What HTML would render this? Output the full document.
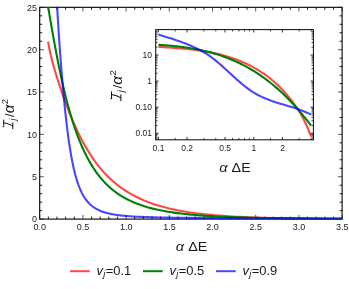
<!DOCTYPE html><html><head><meta charset="utf-8"><style>html,body{margin:0;padding:0;background:#fff}body{width:349px;height:289px;overflow:hidden}</style></head><body><svg width="349" height="289" viewBox="0 0 349 289" style="display:block;will-change:transform;font-family:'Liberation Sans',sans-serif">
<rect width="349" height="289" fill="#fff"/>
<rect x="39.7" y="7.3" width="302.4" height="211.8" fill="none" stroke="#000" stroke-width="1.1"/>
<line x1="39.70" y1="219.10" x2="39.70" y2="214.90" stroke-width="0.7" stroke="#111"/>
<line x1="39.70" y1="7.30" x2="39.70" y2="11.50" stroke-width="0.7" stroke="#111"/>
<line x1="48.34" y1="219.10" x2="48.34" y2="216.60" stroke-width="0.9" stroke="#000"/>
<line x1="48.34" y1="7.30" x2="48.34" y2="9.80" stroke-width="0.9" stroke="#000"/>
<line x1="56.98" y1="219.10" x2="56.98" y2="216.60" stroke-width="0.9" stroke="#000"/>
<line x1="56.98" y1="7.30" x2="56.98" y2="9.80" stroke-width="0.9" stroke="#000"/>
<line x1="65.62" y1="219.10" x2="65.62" y2="216.60" stroke-width="0.9" stroke="#000"/>
<line x1="65.62" y1="7.30" x2="65.62" y2="9.80" stroke-width="0.9" stroke="#000"/>
<line x1="74.26" y1="219.10" x2="74.26" y2="216.60" stroke-width="0.9" stroke="#000"/>
<line x1="74.26" y1="7.30" x2="74.26" y2="9.80" stroke-width="0.9" stroke="#000"/>
<line x1="82.90" y1="219.10" x2="82.90" y2="214.90" stroke-width="0.7" stroke="#111"/>
<line x1="82.90" y1="7.30" x2="82.90" y2="11.50" stroke-width="0.7" stroke="#111"/>
<line x1="91.54" y1="219.10" x2="91.54" y2="216.60" stroke-width="0.9" stroke="#000"/>
<line x1="91.54" y1="7.30" x2="91.54" y2="9.80" stroke-width="0.9" stroke="#000"/>
<line x1="100.18" y1="219.10" x2="100.18" y2="216.60" stroke-width="0.9" stroke="#000"/>
<line x1="100.18" y1="7.30" x2="100.18" y2="9.80" stroke-width="0.9" stroke="#000"/>
<line x1="108.82" y1="219.10" x2="108.82" y2="216.60" stroke-width="0.9" stroke="#000"/>
<line x1="108.82" y1="7.30" x2="108.82" y2="9.80" stroke-width="0.9" stroke="#000"/>
<line x1="117.46" y1="219.10" x2="117.46" y2="216.60" stroke-width="0.9" stroke="#000"/>
<line x1="117.46" y1="7.30" x2="117.46" y2="9.80" stroke-width="0.9" stroke="#000"/>
<line x1="126.10" y1="219.10" x2="126.10" y2="214.90" stroke-width="0.7" stroke="#111"/>
<line x1="126.10" y1="7.30" x2="126.10" y2="11.50" stroke-width="0.7" stroke="#111"/>
<line x1="134.74" y1="219.10" x2="134.74" y2="216.60" stroke-width="0.9" stroke="#000"/>
<line x1="134.74" y1="7.30" x2="134.74" y2="9.80" stroke-width="0.9" stroke="#000"/>
<line x1="143.38" y1="219.10" x2="143.38" y2="216.60" stroke-width="0.9" stroke="#000"/>
<line x1="143.38" y1="7.30" x2="143.38" y2="9.80" stroke-width="0.9" stroke="#000"/>
<line x1="152.02" y1="219.10" x2="152.02" y2="216.60" stroke-width="0.9" stroke="#000"/>
<line x1="152.02" y1="7.30" x2="152.02" y2="9.80" stroke-width="0.9" stroke="#000"/>
<line x1="160.66" y1="219.10" x2="160.66" y2="216.60" stroke-width="0.9" stroke="#000"/>
<line x1="160.66" y1="7.30" x2="160.66" y2="9.80" stroke-width="0.9" stroke="#000"/>
<line x1="169.30" y1="219.10" x2="169.30" y2="214.90" stroke-width="0.7" stroke="#111"/>
<line x1="169.30" y1="7.30" x2="169.30" y2="11.50" stroke-width="0.7" stroke="#111"/>
<line x1="177.94" y1="219.10" x2="177.94" y2="216.60" stroke-width="0.9" stroke="#000"/>
<line x1="177.94" y1="7.30" x2="177.94" y2="9.80" stroke-width="0.9" stroke="#000"/>
<line x1="186.58" y1="219.10" x2="186.58" y2="216.60" stroke-width="0.9" stroke="#000"/>
<line x1="186.58" y1="7.30" x2="186.58" y2="9.80" stroke-width="0.9" stroke="#000"/>
<line x1="195.22" y1="219.10" x2="195.22" y2="216.60" stroke-width="0.9" stroke="#000"/>
<line x1="195.22" y1="7.30" x2="195.22" y2="9.80" stroke-width="0.9" stroke="#000"/>
<line x1="203.86" y1="219.10" x2="203.86" y2="216.60" stroke-width="0.9" stroke="#000"/>
<line x1="203.86" y1="7.30" x2="203.86" y2="9.80" stroke-width="0.9" stroke="#000"/>
<line x1="212.50" y1="219.10" x2="212.50" y2="214.90" stroke-width="0.7" stroke="#111"/>
<line x1="212.50" y1="7.30" x2="212.50" y2="11.50" stroke-width="0.7" stroke="#111"/>
<line x1="221.14" y1="219.10" x2="221.14" y2="216.60" stroke-width="0.9" stroke="#000"/>
<line x1="221.14" y1="7.30" x2="221.14" y2="9.80" stroke-width="0.9" stroke="#000"/>
<line x1="229.78" y1="219.10" x2="229.78" y2="216.60" stroke-width="0.9" stroke="#000"/>
<line x1="229.78" y1="7.30" x2="229.78" y2="9.80" stroke-width="0.9" stroke="#000"/>
<line x1="238.42" y1="219.10" x2="238.42" y2="216.60" stroke-width="0.9" stroke="#000"/>
<line x1="238.42" y1="7.30" x2="238.42" y2="9.80" stroke-width="0.9" stroke="#000"/>
<line x1="247.06" y1="219.10" x2="247.06" y2="216.60" stroke-width="0.9" stroke="#000"/>
<line x1="247.06" y1="7.30" x2="247.06" y2="9.80" stroke-width="0.9" stroke="#000"/>
<line x1="255.70" y1="219.10" x2="255.70" y2="214.90" stroke-width="0.7" stroke="#111"/>
<line x1="255.70" y1="7.30" x2="255.70" y2="11.50" stroke-width="0.7" stroke="#111"/>
<line x1="264.34" y1="219.10" x2="264.34" y2="216.60" stroke-width="0.9" stroke="#000"/>
<line x1="264.34" y1="7.30" x2="264.34" y2="9.80" stroke-width="0.9" stroke="#000"/>
<line x1="272.98" y1="219.10" x2="272.98" y2="216.60" stroke-width="0.9" stroke="#000"/>
<line x1="272.98" y1="7.30" x2="272.98" y2="9.80" stroke-width="0.9" stroke="#000"/>
<line x1="281.62" y1="219.10" x2="281.62" y2="216.60" stroke-width="0.9" stroke="#000"/>
<line x1="281.62" y1="7.30" x2="281.62" y2="9.80" stroke-width="0.9" stroke="#000"/>
<line x1="290.26" y1="219.10" x2="290.26" y2="216.60" stroke-width="0.9" stroke="#000"/>
<line x1="290.26" y1="7.30" x2="290.26" y2="9.80" stroke-width="0.9" stroke="#000"/>
<line x1="298.90" y1="219.10" x2="298.90" y2="214.90" stroke-width="0.7" stroke="#111"/>
<line x1="298.90" y1="7.30" x2="298.90" y2="11.50" stroke-width="0.7" stroke="#111"/>
<line x1="307.54" y1="219.10" x2="307.54" y2="216.60" stroke-width="0.9" stroke="#000"/>
<line x1="307.54" y1="7.30" x2="307.54" y2="9.80" stroke-width="0.9" stroke="#000"/>
<line x1="316.18" y1="219.10" x2="316.18" y2="216.60" stroke-width="0.9" stroke="#000"/>
<line x1="316.18" y1="7.30" x2="316.18" y2="9.80" stroke-width="0.9" stroke="#000"/>
<line x1="324.82" y1="219.10" x2="324.82" y2="216.60" stroke-width="0.9" stroke="#000"/>
<line x1="324.82" y1="7.30" x2="324.82" y2="9.80" stroke-width="0.9" stroke="#000"/>
<line x1="333.46" y1="219.10" x2="333.46" y2="216.60" stroke-width="0.9" stroke="#000"/>
<line x1="333.46" y1="7.30" x2="333.46" y2="9.80" stroke-width="0.9" stroke="#000"/>
<line x1="342.10" y1="219.10" x2="342.10" y2="214.90" stroke-width="0.7" stroke="#111"/>
<line x1="342.10" y1="7.30" x2="342.10" y2="11.50" stroke-width="0.7" stroke="#111"/>
<line x1="39.70" y1="219.10" x2="43.90" y2="219.10" stroke-width="0.7" stroke="#111"/>
<line x1="342.10" y1="219.10" x2="337.90" y2="219.10" stroke-width="0.7" stroke="#111"/>
<line x1="39.70" y1="210.63" x2="42.20" y2="210.63" stroke-width="0.9" stroke="#000"/>
<line x1="342.10" y1="210.63" x2="339.60" y2="210.63" stroke-width="0.9" stroke="#000"/>
<line x1="39.70" y1="202.16" x2="42.20" y2="202.16" stroke-width="0.9" stroke="#000"/>
<line x1="342.10" y1="202.16" x2="339.60" y2="202.16" stroke-width="0.9" stroke="#000"/>
<line x1="39.70" y1="193.69" x2="42.20" y2="193.69" stroke-width="0.9" stroke="#000"/>
<line x1="342.10" y1="193.69" x2="339.60" y2="193.69" stroke-width="0.9" stroke="#000"/>
<line x1="39.70" y1="185.22" x2="42.20" y2="185.22" stroke-width="0.9" stroke="#000"/>
<line x1="342.10" y1="185.22" x2="339.60" y2="185.22" stroke-width="0.9" stroke="#000"/>
<line x1="39.70" y1="176.75" x2="43.90" y2="176.75" stroke-width="0.7" stroke="#111"/>
<line x1="342.10" y1="176.75" x2="337.90" y2="176.75" stroke-width="0.7" stroke="#111"/>
<line x1="39.70" y1="168.28" x2="42.20" y2="168.28" stroke-width="0.9" stroke="#000"/>
<line x1="342.10" y1="168.28" x2="339.60" y2="168.28" stroke-width="0.9" stroke="#000"/>
<line x1="39.70" y1="159.81" x2="42.20" y2="159.81" stroke-width="0.9" stroke="#000"/>
<line x1="342.10" y1="159.81" x2="339.60" y2="159.81" stroke-width="0.9" stroke="#000"/>
<line x1="39.70" y1="151.34" x2="42.20" y2="151.34" stroke-width="0.9" stroke="#000"/>
<line x1="342.10" y1="151.34" x2="339.60" y2="151.34" stroke-width="0.9" stroke="#000"/>
<line x1="39.70" y1="142.87" x2="42.20" y2="142.87" stroke-width="0.9" stroke="#000"/>
<line x1="342.10" y1="142.87" x2="339.60" y2="142.87" stroke-width="0.9" stroke="#000"/>
<line x1="39.70" y1="134.40" x2="43.90" y2="134.40" stroke-width="0.7" stroke="#111"/>
<line x1="342.10" y1="134.40" x2="337.90" y2="134.40" stroke-width="0.7" stroke="#111"/>
<line x1="39.70" y1="125.93" x2="42.20" y2="125.93" stroke-width="0.9" stroke="#000"/>
<line x1="342.10" y1="125.93" x2="339.60" y2="125.93" stroke-width="0.9" stroke="#000"/>
<line x1="39.70" y1="117.46" x2="42.20" y2="117.46" stroke-width="0.9" stroke="#000"/>
<line x1="342.10" y1="117.46" x2="339.60" y2="117.46" stroke-width="0.9" stroke="#000"/>
<line x1="39.70" y1="108.99" x2="42.20" y2="108.99" stroke-width="0.9" stroke="#000"/>
<line x1="342.10" y1="108.99" x2="339.60" y2="108.99" stroke-width="0.9" stroke="#000"/>
<line x1="39.70" y1="100.52" x2="42.20" y2="100.52" stroke-width="0.9" stroke="#000"/>
<line x1="342.10" y1="100.52" x2="339.60" y2="100.52" stroke-width="0.9" stroke="#000"/>
<line x1="39.70" y1="92.05" x2="43.90" y2="92.05" stroke-width="0.7" stroke="#111"/>
<line x1="342.10" y1="92.05" x2="337.90" y2="92.05" stroke-width="0.7" stroke="#111"/>
<line x1="39.70" y1="83.58" x2="42.20" y2="83.58" stroke-width="0.9" stroke="#000"/>
<line x1="342.10" y1="83.58" x2="339.60" y2="83.58" stroke-width="0.9" stroke="#000"/>
<line x1="39.70" y1="75.11" x2="42.20" y2="75.11" stroke-width="0.9" stroke="#000"/>
<line x1="342.10" y1="75.11" x2="339.60" y2="75.11" stroke-width="0.9" stroke="#000"/>
<line x1="39.70" y1="66.64" x2="42.20" y2="66.64" stroke-width="0.9" stroke="#000"/>
<line x1="342.10" y1="66.64" x2="339.60" y2="66.64" stroke-width="0.9" stroke="#000"/>
<line x1="39.70" y1="58.17" x2="42.20" y2="58.17" stroke-width="0.9" stroke="#000"/>
<line x1="342.10" y1="58.17" x2="339.60" y2="58.17" stroke-width="0.9" stroke="#000"/>
<line x1="39.70" y1="49.70" x2="43.90" y2="49.70" stroke-width="0.7" stroke="#111"/>
<line x1="342.10" y1="49.70" x2="337.90" y2="49.70" stroke-width="0.7" stroke="#111"/>
<line x1="39.70" y1="41.23" x2="42.20" y2="41.23" stroke-width="0.9" stroke="#000"/>
<line x1="342.10" y1="41.23" x2="339.60" y2="41.23" stroke-width="0.9" stroke="#000"/>
<line x1="39.70" y1="32.76" x2="42.20" y2="32.76" stroke-width="0.9" stroke="#000"/>
<line x1="342.10" y1="32.76" x2="339.60" y2="32.76" stroke-width="0.9" stroke="#000"/>
<line x1="39.70" y1="24.29" x2="42.20" y2="24.29" stroke-width="0.9" stroke="#000"/>
<line x1="342.10" y1="24.29" x2="339.60" y2="24.29" stroke-width="0.9" stroke="#000"/>
<line x1="39.70" y1="15.82" x2="42.20" y2="15.82" stroke-width="0.9" stroke="#000"/>
<line x1="342.10" y1="15.82" x2="339.60" y2="15.82" stroke-width="0.9" stroke="#000"/>
<line x1="39.70" y1="7.35" x2="43.90" y2="7.35" stroke-width="0.7" stroke="#111"/>
<line x1="342.10" y1="7.35" x2="337.90" y2="7.35" stroke-width="0.7" stroke="#111"/>
<defs><clipPath id="cm"><rect x="39.2" y="6.7" width="303.4" height="213.4"/></clipPath></defs>
<g clip-path="url(#cm)" fill="none" stroke-width="2.1" stroke-linejoin="round">
<path d="M48.10 41.70 L48.76 45.59 L49.42 49.05 L50.07 52.20 L50.73 55.10 L51.38 57.83 L52.04 60.41 L52.70 62.88 L53.35 65.27 L54.01 67.58 L54.67 69.83 L55.32 72.03 L55.98 74.19 L56.63 76.32 L57.29 78.41 L57.95 80.47 L58.60 82.50 L59.26 84.51 L59.92 86.49 L60.57 88.45 L61.23 90.39 L61.88 92.30 L62.54 94.19 L63.20 96.06 L63.85 97.91 L64.51 99.73 L65.17 101.53 L65.82 103.31 L66.48 105.07 L67.13 106.81 L67.79 108.52 L68.45 110.22 L69.10 111.89 L69.76 113.53 L70.42 115.16 L71.07 116.76 L71.73 118.34 L72.39 119.90 L73.04 121.44 L73.70 122.96 L74.35 124.45 L75.01 125.92 L75.67 127.37 L76.32 128.80 L76.98 130.21 L77.64 131.59 L78.29 132.96 L78.95 134.30 L79.60 135.63 L80.26 136.93 L80.92 138.21 L81.57 139.48 L82.23 140.72 L82.89 141.94 L83.54 143.15 L84.20 144.33 L84.85 145.50 L85.51 146.65 L86.17 147.77 L86.82 148.89 L87.48 149.98 L88.14 151.05 L88.79 152.12 L89.45 153.17 L90.10 154.20 L90.76 155.22 L91.42 156.22 L92.07 157.20 L92.73 158.17 L93.39 159.12 L94.04 160.06 L94.70 160.98 L95.35 161.88 L96.01 162.77 L96.67 163.64 L97.32 164.51 L97.98 165.35 L98.64 166.18 L99.29 167.00 L99.95 167.81 L100.61 168.60 L101.26 169.38 L101.92 170.14 L102.57 170.90 L103.23 171.64 L103.89 172.36 L104.54 173.08 L105.20 173.78 L105.86 174.48 L106.51 175.16 L107.17 175.83 L107.82 176.49 L108.48 177.13 L109.14 177.77 L109.79 178.40 L110.45 179.01 L111.11 179.62 L111.76 180.21 L112.42 180.80 L113.07 181.38 L113.73 181.94 L114.39 182.50 L115.04 183.05 L115.70 183.59 L116.36 184.12 L117.01 184.65 L117.67 185.16 L118.32 185.67 L118.98 186.17 L119.64 186.66 L120.29 187.14 L120.95 187.62 L121.61 188.09 L122.26 188.55 L122.92 189.00 L123.57 189.45 L124.23 189.89 L124.89 190.32 L125.54 190.75 L126.20 191.17 L129.86 193.40 L133.52 195.44 L137.18 197.31 L140.85 199.03 L144.51 200.61 L148.17 202.07 L151.83 203.41 L155.49 204.64 L159.15 205.78 L162.81 206.83 L166.47 207.79 L170.14 208.68 L173.80 209.50 L177.46 210.25 L181.12 210.94 L184.78 211.58 L188.44 212.17 L192.10 212.71 L195.76 213.21 L199.43 213.67 L203.09 214.09 L206.75 214.48 L210.41 214.84 L214.07 215.18 L217.73 215.48 L221.39 215.77 L225.06 216.03 L228.72 216.27 L232.38 216.50 L236.04 216.70 L239.70 216.90 L243.36 217.07 L247.02 217.23 L250.68 217.38 L254.35 217.52 L258.01 217.65 L261.67 217.77 L265.33 217.88 L268.99 217.98 L272.65 218.07 L276.31 218.16 L279.97 218.23 L283.64 218.31 L287.30 218.37 L290.96 218.43 L294.62 218.49 L298.28 218.54 L301.94 218.59 L305.60 218.63 L309.27 218.67 L312.93 218.71 L316.59 218.74 L320.25 218.77 L323.91 218.80 L327.57 218.82 L331.23 218.85 L334.89 218.87 L338.56 218.89 L342.22 218.91" stroke="#ff0000" stroke-opacity="0.72"/>
<path d="M48.10 6.49 L48.76 10.51 L49.42 14.45 L50.07 18.33 L50.73 22.16 L51.38 25.96 L52.04 29.71 L52.70 33.43 L53.35 37.11 L54.01 40.75 L54.67 44.34 L55.32 47.89 L55.98 51.39 L56.63 54.83 L57.29 58.23 L57.95 61.57 L58.60 64.85 L59.26 68.08 L59.92 71.25 L60.57 74.36 L61.23 77.41 L61.88 80.40 L62.54 83.34 L63.20 86.21 L63.85 89.03 L64.51 91.79 L65.17 94.49 L65.82 97.13 L66.48 99.72 L67.13 102.25 L67.79 104.72 L68.45 107.14 L69.10 109.51 L69.76 111.83 L70.42 114.09 L71.07 116.30 L71.73 118.46 L72.39 120.58 L73.04 122.64 L73.70 124.66 L74.35 126.63 L75.01 128.56 L75.67 130.44 L76.32 132.28 L76.98 134.08 L77.64 135.84 L78.29 137.55 L78.95 139.23 L79.60 140.87 L80.26 142.47 L80.92 144.03 L81.57 145.56 L82.23 147.05 L82.89 148.51 L83.54 149.94 L84.20 151.33 L84.85 152.71 L85.51 154.05 L86.17 155.36 L86.82 156.64 L87.48 157.90 L88.14 159.12 L88.79 160.32 L89.45 161.49 L90.10 162.63 L90.76 163.75 L91.42 164.85 L92.07 165.91 L92.73 166.96 L93.39 167.98 L94.04 168.98 L94.70 169.96 L95.35 170.91 L96.01 171.85 L96.67 172.76 L97.32 173.65 L97.98 174.53 L98.64 175.38 L99.29 176.22 L99.95 177.04 L100.61 177.84 L101.26 178.62 L101.92 179.39 L102.57 180.13 L103.23 180.87 L103.89 181.59 L104.54 182.29 L105.20 182.98 L105.86 183.65 L106.51 184.31 L107.17 184.95 L107.82 185.58 L108.48 186.20 L109.14 186.80 L109.79 187.40 L110.45 187.98 L111.11 188.54 L111.76 189.10 L112.42 189.64 L113.07 190.18 L113.73 190.70 L114.39 191.21 L115.04 191.71 L115.70 192.20 L116.36 192.68 L117.01 193.15 L117.67 193.62 L118.32 194.07 L118.98 194.50 L119.64 194.93 L120.29 195.36 L120.95 195.77 L121.61 196.17 L122.26 196.57 L122.92 196.96 L123.57 197.34 L124.23 197.71 L124.89 198.08 L125.54 198.44 L126.20 198.79 L129.86 200.63 L133.52 202.28 L137.18 203.77 L140.85 205.11 L144.51 206.31 L148.17 207.40 L151.83 208.38 L155.49 209.27 L159.15 210.08 L162.81 210.81 L166.47 211.47 L170.14 212.08 L173.80 212.63 L177.46 213.13 L181.12 213.58 L184.78 214.00 L188.44 214.39 L192.10 214.74 L195.76 215.06 L199.43 215.35 L203.09 215.62 L206.75 215.87 L210.41 216.10 L214.07 216.31 L217.73 216.50 L221.39 216.68 L225.06 216.85 L228.72 217.00 L232.38 217.14 L236.04 217.27 L239.70 217.39 L243.36 217.50 L247.02 217.61 L250.68 217.70 L254.35 217.79 L258.01 217.87 L261.67 217.95 L265.33 218.02 L268.99 218.09 L272.65 218.15 L276.31 218.21 L279.97 218.26 L283.64 218.31 L287.30 218.36 L290.96 218.40 L294.62 218.44 L298.28 218.48 L301.94 218.52 L305.60 218.55 L309.27 218.58 L312.93 218.61 L316.59 218.64 L320.25 218.67 L323.91 218.69 L327.57 218.71 L331.23 218.73 L334.89 218.75 L338.56 218.77 L342.22 218.79" stroke="#008000" stroke-opacity="1.00"/>
<path d="M48.10 -492.84 L48.76 -381.03 L49.42 -301.06 L50.07 -241.38 L50.73 -195.22 L51.38 -158.36 L52.04 -128.13 L52.70 -102.71 L53.35 -80.89 L54.01 -61.81 L54.67 -44.85 L55.32 -29.56 L55.98 -15.61 L56.63 -2.76 L57.29 9.17 L57.95 20.33 L58.60 30.82 L59.26 40.73 L59.92 50.12 L60.57 59.04 L61.23 67.53 L61.88 75.62 L62.54 83.33 L63.20 90.69 L63.85 97.72 L64.51 104.43 L65.17 110.82 L65.82 116.92 L66.48 122.71 L67.13 128.19 L67.79 133.38 L68.45 138.27 L69.10 142.87 L69.76 147.20 L70.42 151.27 L71.07 155.13 L71.73 158.75 L72.39 162.14 L73.04 165.32 L73.70 168.30 L74.35 171.09 L75.01 173.71 L75.67 176.16 L76.32 178.46 L76.98 180.61 L77.64 182.63 L78.29 184.52 L78.95 186.30 L79.60 187.96 L80.26 189.52 L80.92 190.99 L81.57 192.37 L82.23 193.66 L82.89 194.87 L83.54 196.00 L84.20 197.07 L84.85 198.07 L85.51 199.02 L86.17 199.91 L86.82 200.75 L87.48 201.54 L88.14 202.29 L88.79 203.00 L89.45 203.66 L90.10 204.30 L90.76 204.89 L91.42 205.46 L92.07 205.99 L92.73 206.50 L93.39 206.98 L94.04 207.43 L94.70 207.86 L95.35 208.27 L96.01 208.66 L96.67 209.03 L97.32 209.39 L97.98 209.72 L98.64 210.04 L99.29 210.34 L99.95 210.63 L100.61 210.91 L101.26 211.17 L101.92 211.42 L102.57 211.66 L103.23 211.89 L103.89 212.11 L104.54 212.31 L105.20 212.51 L105.86 212.70 L106.51 212.89 L107.17 213.06 L107.82 213.23 L108.48 213.39 L109.14 213.54 L109.79 213.69 L110.45 213.83 L111.11 213.97 L111.76 214.10 L112.42 214.22 L113.07 214.34 L113.73 214.46 L114.39 214.57 L115.04 214.68 L115.70 214.78 L116.36 214.88 L117.01 214.97 L117.67 215.07 L118.32 215.15 L118.98 215.24 L119.64 215.32 L120.29 215.40 L120.95 215.48 L121.61 215.55 L122.26 215.62 L122.92 215.69 L123.57 215.76 L124.23 215.82 L124.89 215.88 L125.54 215.94 L126.20 216.00 L129.86 216.29 L133.52 216.53 L137.18 216.73 L140.85 216.90 L144.51 217.05 L148.17 217.17 L151.83 217.27 L155.49 217.37 L159.15 217.45 L162.81 217.51 L166.47 217.58 L170.14 217.63 L173.80 217.68 L177.46 217.73 L181.12 217.77 L184.78 217.80 L188.44 217.84 L192.10 217.87 L195.76 217.90 L199.43 217.93 L203.09 217.95 L206.75 217.98 L210.41 218.00 L214.07 218.02 L217.73 218.04 L221.39 218.06 L225.06 218.08 L228.72 218.10 L232.38 218.12 L236.04 218.14 L239.70 218.15 L243.36 218.17 L247.02 218.19 L250.68 218.20 L254.35 218.22 L258.01 218.23 L261.67 218.25 L265.33 218.26 L268.99 218.28 L272.65 218.29 L276.31 218.31 L279.97 218.32 L283.64 218.34 L287.30 218.35 L290.96 218.37 L294.62 218.38 L298.28 218.39 L301.94 218.41 L305.60 218.42 L309.27 218.43 L312.93 218.45 L316.59 218.46 L320.25 218.47 L323.91 218.48 L327.57 218.50 L331.23 218.51 L334.89 218.52 L338.56 218.53 L342.22 218.55" stroke="#0000ff" stroke-opacity="0.72"/>
</g>
<g font-size="9px" fill="#222">
<text x="39.8" y="230.3" text-anchor="middle">0.0</text>
<text x="83.0" y="230.3" text-anchor="middle">0.5</text>
<text x="126.2" y="230.3" text-anchor="middle">1.0</text>
<text x="169.4" y="230.3" text-anchor="middle">1.5</text>
<text x="212.6" y="230.3" text-anchor="middle">2.0</text>
<text x="255.8" y="230.3" text-anchor="middle">2.5</text>
<text x="299.0" y="230.3" text-anchor="middle">3.0</text>
<text x="342.2" y="230.3" text-anchor="middle">3.5</text>
<text x="36.9" y="222.4" text-anchor="end">0</text>
<text x="36.9" y="180.1" text-anchor="end">5</text>
<text x="36.9" y="137.7" text-anchor="end">10</text>
<text x="36.9" y="95.3" text-anchor="end">15</text>
<text x="36.9" y="53.0" text-anchor="end">20</text>
<text x="36.9" y="10.6" text-anchor="end">25</text>
</g>
<g fill="none" stroke-width="2.1" stroke-linejoin="round">
<path d="M158.40 46.81 L159.94 46.91 L161.48 47.02 L163.03 47.12 L164.57 47.23 L166.11 47.33 L167.65 47.43 L169.20 47.54 L170.74 47.65 L172.28 47.76 L173.82 47.87 L175.36 47.98 L176.91 48.10 L178.45 48.22 L179.99 48.35 L181.53 48.48 L183.07 48.62 L184.62 48.76 L186.16 48.90 L187.70 49.06 L189.24 49.22 L190.79 49.38 L192.33 49.56 L193.87 49.74 L195.41 49.93 L196.95 50.13 L198.50 50.34 L200.04 50.56 L201.58 50.79 L203.12 51.03 L204.67 51.28 L206.21 51.54 L207.75 51.81 L209.29 52.10 L210.83 52.40 L212.38 52.71 L213.92 53.03 L215.46 53.37 L217.00 53.73 L218.55 54.09 L220.09 54.48 L221.63 54.88 L223.17 55.29 L224.71 55.73 L226.26 56.17 L227.80 56.64 L229.34 57.12 L230.88 57.63 L232.42 58.15 L233.97 58.69 L235.51 59.25 L237.05 59.83 L238.59 60.43 L240.14 61.05 L241.68 61.69 L243.22 62.35 L244.76 63.04 L246.30 63.75 L247.85 64.48 L249.39 65.23 L250.93 66.02 L252.47 66.83 L254.02 67.67 L255.56 68.54 L257.10 69.44 L258.64 70.37 L260.18 71.34 L261.73 72.34 L263.27 73.38 L264.81 74.46 L266.35 75.58 L267.90 76.73 L269.44 77.93 L270.98 79.18 L272.52 80.46 L274.06 81.80 L275.61 83.18 L277.15 84.60 L278.69 86.08 L280.23 87.61 L281.77 89.19 L283.32 90.83 L284.86 92.52 L286.40 94.26 L287.94 96.07 L289.49 97.93 L291.03 99.85 L292.57 101.83 L294.11 103.89 L295.65 106.05 L297.20 108.31 L298.74 110.71 L300.28 113.26 L301.82 115.97 L303.37 118.87 L304.91 121.97 L306.45 125.29 L307.99 128.85 L309.53 132.66 L311.08 136.74" stroke="#ff0000" stroke-opacity="0.72"/>
<path d="M158.40 44.77 L159.94 44.88 L161.48 44.99 L163.03 45.10 L164.57 45.23 L166.11 45.35 L167.65 45.48 L169.20 45.62 L170.74 45.76 L172.28 45.91 L173.82 46.06 L175.36 46.23 L176.91 46.40 L178.45 46.57 L179.99 46.76 L181.53 46.95 L183.07 47.15 L184.62 47.36 L186.16 47.58 L187.70 47.80 L189.24 48.04 L190.79 48.29 L192.33 48.55 L193.87 48.82 L195.41 49.10 L196.95 49.39 L198.50 49.69 L200.04 50.01 L201.58 50.33 L203.12 50.67 L204.67 51.03 L206.21 51.40 L207.75 51.78 L209.29 52.17 L210.83 52.58 L212.38 53.00 L213.92 53.44 L215.46 53.89 L217.00 54.36 L218.55 54.85 L220.09 55.35 L221.63 55.87 L223.17 56.41 L224.71 56.96 L226.26 57.53 L227.80 58.12 L229.34 58.73 L230.88 59.35 L232.42 60.00 L233.97 60.66 L235.51 61.34 L237.05 62.05 L238.59 62.77 L240.14 63.51 L241.68 64.28 L243.22 65.07 L244.76 65.87 L246.30 66.70 L247.85 67.56 L249.39 68.43 L250.93 69.33 L252.47 70.25 L254.02 71.19 L255.56 72.16 L257.10 73.15 L258.64 74.17 L260.18 75.21 L261.73 76.28 L263.27 77.37 L264.81 78.49 L266.35 79.64 L267.90 80.81 L269.44 82.01 L270.98 83.23 L272.52 84.49 L274.06 85.77 L275.61 87.08 L277.15 88.41 L278.69 89.78 L280.23 91.18 L281.77 92.60 L283.32 94.06 L284.86 95.54 L286.40 97.06 L287.94 98.60 L289.49 100.18 L291.03 101.79 L292.57 103.43 L294.11 105.10 L295.65 106.81 L297.20 108.55 L298.74 110.32 L300.28 112.12 L301.82 113.96 L303.37 115.83 L304.91 117.74 L306.45 119.68 L307.99 121.66 L309.53 123.67 L311.08 125.72" stroke="#008000" stroke-opacity="1.00"/>
<path d="M158.40 34.61 L159.94 35.07 L161.48 35.53 L163.03 35.99 L164.57 36.45 L166.11 36.92 L167.65 37.40 L169.20 37.88 L170.74 38.37 L172.28 38.86 L173.82 39.37 L175.36 39.88 L176.91 40.40 L178.45 40.94 L179.99 41.49 L181.53 42.05 L183.07 42.62 L184.62 43.21 L186.16 43.82 L187.70 44.44 L189.24 45.08 L190.79 45.74 L192.33 46.41 L193.87 47.11 L195.41 47.83 L196.95 48.57 L198.50 49.34 L200.04 50.13 L201.58 50.96 L203.12 51.83 L204.67 52.74 L206.21 53.68 L207.75 54.68 L209.29 55.72 L210.83 56.82 L212.38 57.97 L213.92 59.16 L215.46 60.39 L217.00 61.66 L218.55 62.96 L220.09 64.30 L221.63 65.65 L223.17 67.03 L224.71 68.42 L226.26 69.83 L227.80 71.25 L229.34 72.67 L230.88 74.09 L232.42 75.51 L233.97 76.92 L235.51 78.31 L237.05 79.70 L238.59 81.06 L240.14 82.40 L241.68 83.71 L243.22 84.99 L244.76 86.23 L246.30 87.43 L247.85 88.59 L249.39 89.71 L250.93 90.76 L252.47 91.77 L254.02 92.73 L255.56 93.64 L257.10 94.50 L258.64 95.32 L260.18 96.10 L261.73 96.85 L263.27 97.55 L264.81 98.23 L266.35 98.87 L267.90 99.48 L269.44 100.07 L270.98 100.63 L272.52 101.17 L274.06 101.70 L275.61 102.20 L277.15 102.70 L278.69 103.17 L280.23 103.64 L281.77 104.11 L283.32 104.56 L284.86 105.02 L286.40 105.48 L287.94 105.93 L289.49 106.39 L291.03 106.86 L292.57 107.34 L294.11 107.83 L295.65 108.33 L297.20 108.85 L298.74 109.39 L300.28 109.95 L301.82 110.54 L303.37 111.15 L304.91 111.79 L306.45 112.45 L307.99 113.16 L309.53 113.89 L311.08 114.67" stroke="#0000ff" stroke-opacity="0.72"/>
</g>
<rect x="155.7" y="29.6" width="157.7" height="110.2" fill="none" stroke="#111" stroke-width="1.05"/>
<line x1="158.40" y1="139.80" x2="158.40" y2="136.90" stroke="#000" stroke-width="0.8"/>
<line x1="158.40" y1="29.60" x2="158.40" y2="32.50" stroke="#000" stroke-width="0.8"/>
<line x1="187.09" y1="139.80" x2="187.09" y2="136.90" stroke="#000" stroke-width="0.8"/>
<line x1="187.09" y1="29.60" x2="187.09" y2="32.50" stroke="#000" stroke-width="0.8"/>
<line x1="225.01" y1="139.80" x2="225.01" y2="136.90" stroke="#000" stroke-width="0.8"/>
<line x1="225.01" y1="29.60" x2="225.01" y2="32.50" stroke="#000" stroke-width="0.8"/>
<line x1="253.70" y1="139.80" x2="253.70" y2="136.90" stroke="#000" stroke-width="0.8"/>
<line x1="253.70" y1="29.60" x2="253.70" y2="32.50" stroke="#000" stroke-width="0.8"/>
<line x1="282.39" y1="139.80" x2="282.39" y2="136.90" stroke="#000" stroke-width="0.8"/>
<line x1="282.39" y1="29.60" x2="282.39" y2="32.50" stroke="#000" stroke-width="0.8"/>
<line x1="175.18" y1="139.80" x2="175.18" y2="137.90" stroke="#000" stroke-width="0.7"/>
<line x1="175.18" y1="29.60" x2="175.18" y2="31.50" stroke="#000" stroke-width="0.7"/>
<line x1="203.87" y1="139.80" x2="203.87" y2="137.90" stroke="#000" stroke-width="0.7"/>
<line x1="203.87" y1="29.60" x2="203.87" y2="31.50" stroke="#000" stroke-width="0.7"/>
<line x1="215.78" y1="139.80" x2="215.78" y2="137.90" stroke="#000" stroke-width="0.7"/>
<line x1="215.78" y1="29.60" x2="215.78" y2="31.50" stroke="#000" stroke-width="0.7"/>
<line x1="232.56" y1="139.80" x2="232.56" y2="137.90" stroke="#000" stroke-width="0.7"/>
<line x1="232.56" y1="29.60" x2="232.56" y2="31.50" stroke="#000" stroke-width="0.7"/>
<line x1="238.94" y1="139.80" x2="238.94" y2="137.90" stroke="#000" stroke-width="0.7"/>
<line x1="238.94" y1="29.60" x2="238.94" y2="31.50" stroke="#000" stroke-width="0.7"/>
<line x1="244.46" y1="139.80" x2="244.46" y2="137.90" stroke="#000" stroke-width="0.7"/>
<line x1="244.46" y1="29.60" x2="244.46" y2="31.50" stroke="#000" stroke-width="0.7"/>
<line x1="249.34" y1="139.80" x2="249.34" y2="137.90" stroke="#000" stroke-width="0.7"/>
<line x1="249.34" y1="29.60" x2="249.34" y2="31.50" stroke="#000" stroke-width="0.7"/>
<line x1="270.48" y1="139.80" x2="270.48" y2="137.90" stroke="#000" stroke-width="0.7"/>
<line x1="270.48" y1="29.60" x2="270.48" y2="31.50" stroke="#000" stroke-width="0.7"/>
<line x1="299.17" y1="139.80" x2="299.17" y2="137.90" stroke="#000" stroke-width="0.7"/>
<line x1="299.17" y1="29.60" x2="299.17" y2="31.50" stroke="#000" stroke-width="0.7"/>
<line x1="311.08" y1="139.80" x2="311.08" y2="137.90" stroke="#000" stroke-width="0.7"/>
<line x1="311.08" y1="29.60" x2="311.08" y2="31.50" stroke="#000" stroke-width="0.7"/>
<line x1="155.70" y1="55.00" x2="158.60" y2="55.00" stroke="#000" stroke-width="0.8"/>
<line x1="313.40" y1="55.00" x2="310.50" y2="55.00" stroke="#000" stroke-width="0.8"/>
<line x1="155.70" y1="81.10" x2="158.60" y2="81.10" stroke="#000" stroke-width="0.8"/>
<line x1="313.40" y1="81.10" x2="310.50" y2="81.10" stroke="#000" stroke-width="0.8"/>
<line x1="155.70" y1="107.20" x2="158.60" y2="107.20" stroke="#000" stroke-width="0.8"/>
<line x1="313.40" y1="107.20" x2="310.50" y2="107.20" stroke="#000" stroke-width="0.8"/>
<line x1="155.70" y1="133.30" x2="158.60" y2="133.30" stroke="#000" stroke-width="0.8"/>
<line x1="313.40" y1="133.30" x2="310.50" y2="133.30" stroke="#000" stroke-width="0.8"/>
<line x1="155.70" y1="139.09" x2="157.60" y2="139.09" stroke="#000" stroke-width="0.7"/>
<line x1="313.40" y1="139.09" x2="311.50" y2="139.09" stroke="#000" stroke-width="0.7"/>
<line x1="155.70" y1="137.34" x2="157.60" y2="137.34" stroke="#000" stroke-width="0.7"/>
<line x1="313.40" y1="137.34" x2="311.50" y2="137.34" stroke="#000" stroke-width="0.7"/>
<line x1="155.70" y1="135.83" x2="157.60" y2="135.83" stroke="#000" stroke-width="0.7"/>
<line x1="313.40" y1="135.83" x2="311.50" y2="135.83" stroke="#000" stroke-width="0.7"/>
<line x1="155.70" y1="134.49" x2="157.60" y2="134.49" stroke="#000" stroke-width="0.7"/>
<line x1="313.40" y1="134.49" x2="311.50" y2="134.49" stroke="#000" stroke-width="0.7"/>
<line x1="155.70" y1="125.44" x2="157.60" y2="125.44" stroke="#000" stroke-width="0.7"/>
<line x1="313.40" y1="125.44" x2="311.50" y2="125.44" stroke="#000" stroke-width="0.7"/>
<line x1="155.70" y1="120.85" x2="157.60" y2="120.85" stroke="#000" stroke-width="0.7"/>
<line x1="313.40" y1="120.85" x2="311.50" y2="120.85" stroke="#000" stroke-width="0.7"/>
<line x1="155.70" y1="117.59" x2="157.60" y2="117.59" stroke="#000" stroke-width="0.7"/>
<line x1="313.40" y1="117.59" x2="311.50" y2="117.59" stroke="#000" stroke-width="0.7"/>
<line x1="155.70" y1="115.06" x2="157.60" y2="115.06" stroke="#000" stroke-width="0.7"/>
<line x1="313.40" y1="115.06" x2="311.50" y2="115.06" stroke="#000" stroke-width="0.7"/>
<line x1="155.70" y1="112.99" x2="157.60" y2="112.99" stroke="#000" stroke-width="0.7"/>
<line x1="313.40" y1="112.99" x2="311.50" y2="112.99" stroke="#000" stroke-width="0.7"/>
<line x1="155.70" y1="111.24" x2="157.60" y2="111.24" stroke="#000" stroke-width="0.7"/>
<line x1="313.40" y1="111.24" x2="311.50" y2="111.24" stroke="#000" stroke-width="0.7"/>
<line x1="155.70" y1="109.73" x2="157.60" y2="109.73" stroke="#000" stroke-width="0.7"/>
<line x1="313.40" y1="109.73" x2="311.50" y2="109.73" stroke="#000" stroke-width="0.7"/>
<line x1="155.70" y1="108.39" x2="157.60" y2="108.39" stroke="#000" stroke-width="0.7"/>
<line x1="313.40" y1="108.39" x2="311.50" y2="108.39" stroke="#000" stroke-width="0.7"/>
<line x1="155.70" y1="99.34" x2="157.60" y2="99.34" stroke="#000" stroke-width="0.7"/>
<line x1="313.40" y1="99.34" x2="311.50" y2="99.34" stroke="#000" stroke-width="0.7"/>
<line x1="155.70" y1="94.75" x2="157.60" y2="94.75" stroke="#000" stroke-width="0.7"/>
<line x1="313.40" y1="94.75" x2="311.50" y2="94.75" stroke="#000" stroke-width="0.7"/>
<line x1="155.70" y1="91.49" x2="157.60" y2="91.49" stroke="#000" stroke-width="0.7"/>
<line x1="313.40" y1="91.49" x2="311.50" y2="91.49" stroke="#000" stroke-width="0.7"/>
<line x1="155.70" y1="88.96" x2="157.60" y2="88.96" stroke="#000" stroke-width="0.7"/>
<line x1="313.40" y1="88.96" x2="311.50" y2="88.96" stroke="#000" stroke-width="0.7"/>
<line x1="155.70" y1="86.89" x2="157.60" y2="86.89" stroke="#000" stroke-width="0.7"/>
<line x1="313.40" y1="86.89" x2="311.50" y2="86.89" stroke="#000" stroke-width="0.7"/>
<line x1="155.70" y1="85.14" x2="157.60" y2="85.14" stroke="#000" stroke-width="0.7"/>
<line x1="313.40" y1="85.14" x2="311.50" y2="85.14" stroke="#000" stroke-width="0.7"/>
<line x1="155.70" y1="83.63" x2="157.60" y2="83.63" stroke="#000" stroke-width="0.7"/>
<line x1="313.40" y1="83.63" x2="311.50" y2="83.63" stroke="#000" stroke-width="0.7"/>
<line x1="155.70" y1="82.29" x2="157.60" y2="82.29" stroke="#000" stroke-width="0.7"/>
<line x1="313.40" y1="82.29" x2="311.50" y2="82.29" stroke="#000" stroke-width="0.7"/>
<line x1="155.70" y1="73.24" x2="157.60" y2="73.24" stroke="#000" stroke-width="0.7"/>
<line x1="313.40" y1="73.24" x2="311.50" y2="73.24" stroke="#000" stroke-width="0.7"/>
<line x1="155.70" y1="68.65" x2="157.60" y2="68.65" stroke="#000" stroke-width="0.7"/>
<line x1="313.40" y1="68.65" x2="311.50" y2="68.65" stroke="#000" stroke-width="0.7"/>
<line x1="155.70" y1="65.39" x2="157.60" y2="65.39" stroke="#000" stroke-width="0.7"/>
<line x1="313.40" y1="65.39" x2="311.50" y2="65.39" stroke="#000" stroke-width="0.7"/>
<line x1="155.70" y1="62.86" x2="157.60" y2="62.86" stroke="#000" stroke-width="0.7"/>
<line x1="313.40" y1="62.86" x2="311.50" y2="62.86" stroke="#000" stroke-width="0.7"/>
<line x1="155.70" y1="60.79" x2="157.60" y2="60.79" stroke="#000" stroke-width="0.7"/>
<line x1="313.40" y1="60.79" x2="311.50" y2="60.79" stroke="#000" stroke-width="0.7"/>
<line x1="155.70" y1="59.04" x2="157.60" y2="59.04" stroke="#000" stroke-width="0.7"/>
<line x1="313.40" y1="59.04" x2="311.50" y2="59.04" stroke="#000" stroke-width="0.7"/>
<line x1="155.70" y1="57.53" x2="157.60" y2="57.53" stroke="#000" stroke-width="0.7"/>
<line x1="313.40" y1="57.53" x2="311.50" y2="57.53" stroke="#000" stroke-width="0.7"/>
<line x1="155.70" y1="56.19" x2="157.60" y2="56.19" stroke="#000" stroke-width="0.7"/>
<line x1="313.40" y1="56.19" x2="311.50" y2="56.19" stroke="#000" stroke-width="0.7"/>
<line x1="155.70" y1="47.14" x2="157.60" y2="47.14" stroke="#000" stroke-width="0.7"/>
<line x1="313.40" y1="47.14" x2="311.50" y2="47.14" stroke="#000" stroke-width="0.7"/>
<line x1="155.70" y1="42.55" x2="157.60" y2="42.55" stroke="#000" stroke-width="0.7"/>
<line x1="313.40" y1="42.55" x2="311.50" y2="42.55" stroke="#000" stroke-width="0.7"/>
<line x1="155.70" y1="39.29" x2="157.60" y2="39.29" stroke="#000" stroke-width="0.7"/>
<line x1="313.40" y1="39.29" x2="311.50" y2="39.29" stroke="#000" stroke-width="0.7"/>
<line x1="155.70" y1="36.76" x2="157.60" y2="36.76" stroke="#000" stroke-width="0.7"/>
<line x1="313.40" y1="36.76" x2="311.50" y2="36.76" stroke="#000" stroke-width="0.7"/>
<line x1="155.70" y1="34.69" x2="157.60" y2="34.69" stroke="#000" stroke-width="0.7"/>
<line x1="313.40" y1="34.69" x2="311.50" y2="34.69" stroke="#000" stroke-width="0.7"/>
<line x1="155.70" y1="32.94" x2="157.60" y2="32.94" stroke="#000" stroke-width="0.7"/>
<line x1="313.40" y1="32.94" x2="311.50" y2="32.94" stroke="#000" stroke-width="0.7"/>
<line x1="155.70" y1="31.43" x2="157.60" y2="31.43" stroke="#000" stroke-width="0.7"/>
<line x1="313.40" y1="31.43" x2="311.50" y2="31.43" stroke="#000" stroke-width="0.7"/>
<g font-size="8.5px" fill="#222">
<text x="158.5" y="151" text-anchor="middle">0.1</text>
<text x="187.2" y="151" text-anchor="middle">0.2</text>
<text x="225.1" y="151" text-anchor="middle">0.5</text>
<text x="253.8" y="151" text-anchor="middle">1</text>
<text x="282.5" y="151" text-anchor="middle">2</text>
<text x="152" y="58.0" text-anchor="end">10</text>
<text x="152" y="84.1" text-anchor="end">1</text>
<text x="152" y="110.2" text-anchor="end">0.10</text>
<text x="152" y="136.3" text-anchor="end">0.01</text>
</g>
<g font-size="13px" fill="#1a1a1a"><text transform="translate(175.8 251.1) scale(1.12 1)" font-style="italic">α</text><text transform="translate(188.2 251.1) scale(1.1 1)">ΔE</text></g>
<g font-size="13px" fill="#1a1a1a"><text transform="translate(219.2 172.0) scale(1.12 1)" font-style="italic">α</text><text transform="translate(231.6 172.0) scale(1.1 1)">ΔE</text></g>
<g transform="translate(13.3 113.5) rotate(-90)" fill="#1a1a1a" font-size="13px"><path d="M-13.3 -10.3 C-13.6 -9.4 -13.1 -9.2 -12.2 -9.6 L-6.5 -9.6 M-9.3 -9.6 C-9.9 -6 -11 -3 -12.5 -0.5 M-15.2 -0.5 L-9.4 -0.5" fill="none" stroke="#111" stroke-width="1.0" stroke-linecap="round"/><text x="-7.0" y="2.7" font-size="9px" font-style="italic">j</text><text x="-3.4" y="0.2">/</text><text x="0.3" y="0.4" font-size="15px" font-style="italic">α</text><text x="9.2" y="-5.6" font-size="9.5px">2</text></g>
<g transform="translate(121.4 85.0) rotate(-90) scale(1.03)" fill="#1a1a1a" font-size="13px"><path d="M-13.3 -10.3 C-13.6 -9.4 -13.1 -9.2 -12.2 -9.6 L-6.5 -9.6 M-9.3 -9.6 C-9.9 -6 -11 -3 -12.5 -0.5 M-15.2 -0.5 L-9.4 -0.5" fill="none" stroke="#111" stroke-width="1.0" stroke-linecap="round"/><text x="-7.0" y="2.7" font-size="9px" font-style="italic">j</text><text x="-3.4" y="0.2">/</text><text x="0.3" y="0.4" font-size="15px" font-style="italic">α</text><text x="9.2" y="-5.6" font-size="9.5px">2</text></g>
<g font-size="12px" fill="#1a1a1a">
<line x1="70.0" y1="271.2" x2="89.7" y2="271.2" stroke="#ff0000" stroke-opacity="0.72" stroke-width="2.0"/>
<text transform="translate(96.4 275.1) scale(1.08 1)"><tspan font-style="italic">v</tspan><tspan font-style="italic" font-size="8.5px" dy="2.2" dx="0.3">j</tspan><tspan dy="-2.2" dx="0.5">=0.1</tspan></text>
<line x1="143.0" y1="271.2" x2="162.7" y2="271.2" stroke="#008000" stroke-opacity="1.00" stroke-width="2.0"/>
<text transform="translate(169.4 275.1) scale(1.08 1)"><tspan font-style="italic">v</tspan><tspan font-style="italic" font-size="8.5px" dy="2.2" dx="0.3">j</tspan><tspan dy="-2.2" dx="0.5">=0.5</tspan></text>
<line x1="216.0" y1="271.2" x2="235.7" y2="271.2" stroke="#0000ff" stroke-opacity="0.72" stroke-width="2.0"/>
<text transform="translate(242.4 275.1) scale(1.08 1)"><tspan font-style="italic">v</tspan><tspan font-style="italic" font-size="8.5px" dy="2.2" dx="0.3">j</tspan><tspan dy="-2.2" dx="0.5">=0.9</tspan></text>
</g>
</svg></body></html>
